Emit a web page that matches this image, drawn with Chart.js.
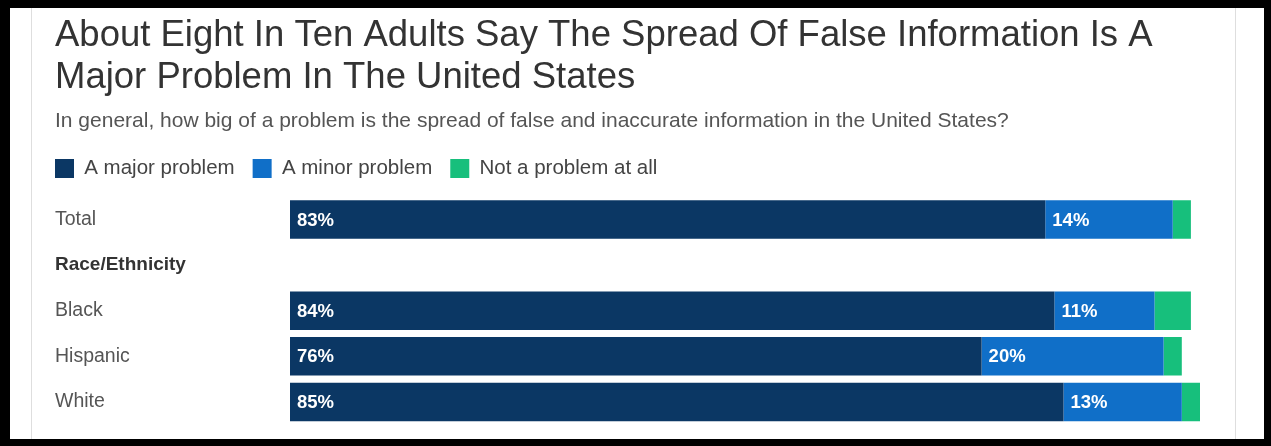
<!DOCTYPE html>
<html>
<head>
<meta charset="utf-8">
<script src="https://cdn.jsdelivr.net/npm/chart.js@4.4.0/dist/chart.umd.min.js"></script>
<style>
  html, body { margin: 0; padding: 0; background: #fff; overflow: hidden; width: 1271px; height: 446px; }
  #card { position: absolute; left: 31px; top: 0; width: 1203px; height: 446px; border-left: 1px solid #dedede; border-right: 1px solid #dedede; }
  #wrap { position: absolute; left: 0; top: 0; width: 1271px; height: 485px; }
  #frame { position: absolute; left: 0; top: 0; width: 1271px; height: 446px; box-sizing: border-box;
           border-style: solid; border-color: #000; border-width: 8px 7px 7px 10px; pointer-events: none; }
</style>
</head>
<body>
<div id="card"></div>
<div id="wrap"><canvas id="problemChart"></canvas></div>
<div id="frame"></div>
<script>
var categories = ['Total', 'Race/Ethnicity', 'Black', 'Hispanic', 'White', 'Educational Attainment'];
var headerRows = ['Race/Ethnicity', 'Educational Attainment'];
var majorProblem = [83, null, 84, 76, 85, null];
var minorProblem = [14, null, 11, 20, 13, null];
var notAProblem = [2, null, 4, 2, 2, null];

Chart.defaults.font.family = "'Liberation Sans', Arial, sans-serif";

// white % labels at the start of each segment (not for the thin green one)
var segmentLabels = {
  id: 'segmentLabels',
  afterDatasetsDraw: function(chart) {
    var ctx = chart.ctx;
    ctx.save();
    ctx.font = "bold 18.5px 'Liberation Sans', Arial, sans-serif";
    ctx.fillStyle = '#ffffff';
    ctx.textAlign = 'left';
    ctx.textBaseline = 'middle';
    [0, 1].forEach(function(i) {
      var meta = chart.getDatasetMeta(i);
      meta.data.forEach(function(bar, j) {
        var v = chart.data.datasets[i].data[j];
        if (v == null) return;
        ctx.fillText(v + '%', Math.min(bar.x, bar.base) + 7, bar.y + 1);
      });
    });
    ctx.restore();
  }
};

// legend boxes start flush with the title
var legendNudge = {
  id: 'legendNudge',
  afterLayout: function(chart) {
    chart.legend.left -= chart.options.plugins.legend.labels.padding;
  }
};

var ctx = document.getElementById('problemChart').getContext('2d');
var problemChart = new Chart(ctx, {
  type: 'bar',
  data: {
    labels: categories,
    datasets: [{
      label: 'A major problem',
      data: majorProblem,
      backgroundColor: '#0b3764'
    }, {
      label: 'A minor problem',
      data: minorProblem,
      backgroundColor: '#106fc8'
    }, {
      label: 'Not a problem at all',
      data: notAProblem,
      backgroundColor: '#17bf7c'
    }]
  },
  options: {
    indexAxis: 'y',
    responsive: true,
    maintainAspectRatio: false,
    animation: false,
    barPercentage: 0.846,
    categoryPercentage: 1,
    layout: { padding: { top: 13, left: 55, right: 71, bottom: 0 } },
    scales: {
      x: {
        stacked: true, min: 0, max: 100,
        position: 'top',
        ticks: { display: false },
        grid: { display: false, drawTicks: false },
        border: { display: false },
        afterFit: function(scale) { scale.height = 8; }
      },
      y: {
        stacked: true,
        grid: { display: false },
        border: { display: false },
        afterFit: function(scale) { scale.width = 235; },
        ticks: {
          crossAlign: 'far',
          color: function(c) { return headerRows.indexOf(c.tick.label) >= 0 ? '#333' : '#555'; },
          font: function(c) {
            return headerRows.indexOf(c.tick.label) >= 0 ? { size: 19, weight: 'bold' } : { size: 19.5 };
          }
        }
      }
    },
    plugins: {
      title: {
        display: true,
        align: 'start',
        text: ['About Eight In Ten Adults Say The Spread Of False Information Is A',
               'Major Problem In The United States'],
        color: '#333',
        font: { size: 36.5, weight: 'normal', lineHeight: '42px' },
        padding: { top: 2, bottom: 0 }
      },
      subtitle: {
        display: true,
        align: 'start',
        text: 'In general, how big of a problem is the spread of false and inaccurate information in the United States?',
        color: '#555',
        font: { size: 21, lineHeight: 1.2 },
        padding: { top: 9.7, bottom: 6.4 }
      },
      legend: {
        display: true,
        position: 'top',
        align: 'start',
        labels: {
          boxWidth: 19,
          boxHeight: 19,
          padding: 18,
          color: '#444',
          font: { size: 20.5 }
        }
      },
      tooltip: { enabled: false }
    }
  },
  plugins: [segmentLabels, legendNudge]
});
</script>
</body>
</html>
